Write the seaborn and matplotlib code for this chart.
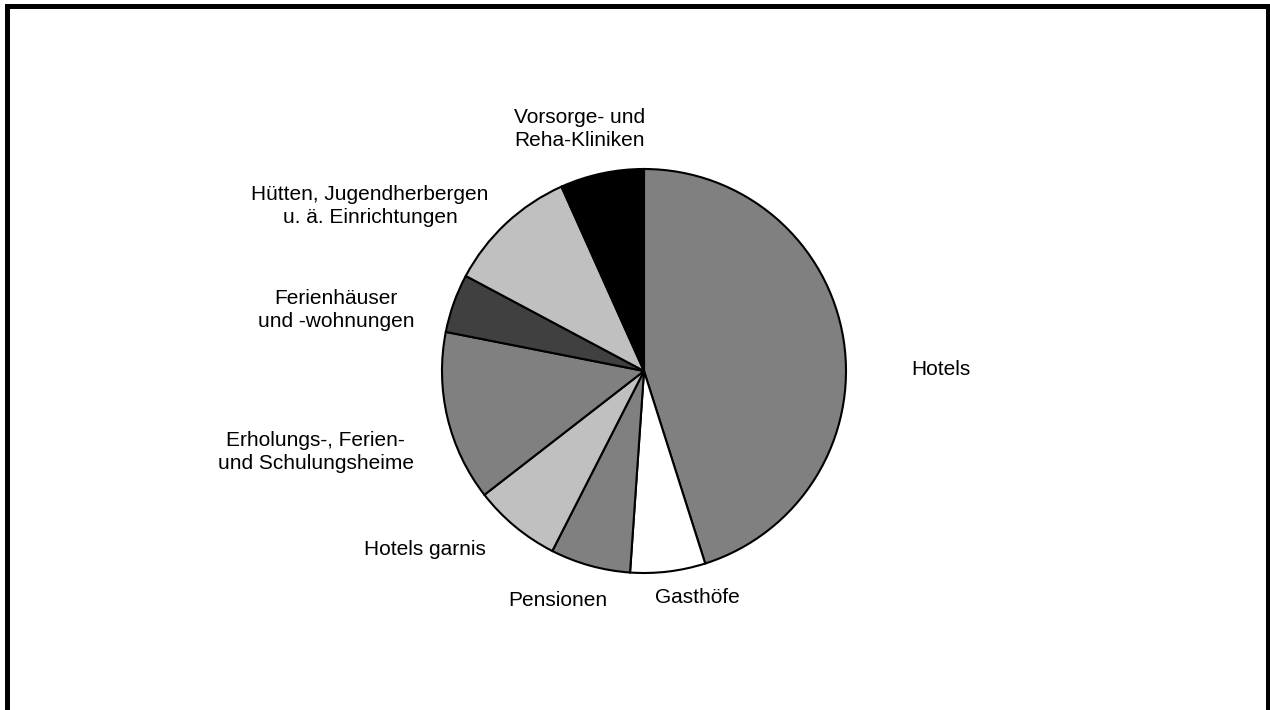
import matplotlib
matplotlib.use("Agg")
import matplotlib.pyplot as plt
import seaborn as sns
from matplotlib.patches import Rectangle

sns.set_theme(style="white")
plt.rcParams['font.family'] = ['Liberation Sans', 'DejaVu Sans']

# Data
categories = [
    "Hotels",
    "Gasthöfe",
    "Pensionen",
    "Hotels garnis",
    "Erholungs-, Ferien-\nund Schulungsheime",
    "Ferienhäuser\nund -wohnungen",
    "Hütten, Jugendherbergen\nu. ä. Einrichtungen",
    "Vorsorge- und\nReha-Kliniken",
]
shares = [45.1, 6.0, 6.4, 7.0, 13.6, 4.7, 10.5, 6.7]
colors = ["#808080", "#ffffff", "#808080", "#c0c0c0",
          "#808080", "#404040", "#c0c0c0", "#000000"]

# Layout: label centres (in pie-radius units)
label_pos = [(1.470, 0.005), (0.265, -1.119), (-0.428, -1.134), (-1.082, -0.886),
             (-1.626, -0.401), (-1.525, 0.302), (-1.356, 0.817), (-0.317, 1.198)]

W, H = 1270, 710
fig = plt.figure(figsize=(W / 100, H / 100), dpi=100)
fig.patch.set_facecolor("white")

cx, cy, R = 644, 371, 202
ax = fig.add_axes([0, 0, 1, 1])
ax.pie(shares, colors=colors, startangle=90, counterclock=False,
       wedgeprops=dict(edgecolor="black", linewidth=1.5))
ax.set_aspect("auto")
ax.set_xlim(-cx / R, (W - cx) / R)
ax.set_ylim(-(H - cy) / R, cy / R)
ax.axis("off")

for lab, (x, y) in zip(categories, label_pos):
    ax.text(x, y, lab, ha="center", va="center", multialignment="center",
            fontsize=15, color="black", linespacing=1.32)

# Outer frame
lw_px = 5
frame = Rectangle((6.5 / W, -20 / H), (W - 2.5 - 6.5) / W, (H - 6.5 + 20) / H,
                  transform=fig.transFigure, fill=False, edgecolor="black",
                  linewidth=lw_px * 0.72, clip_on=False)
fig.patches.append(frame)

fig.savefig("out.png", dpi=100, facecolor="white")
